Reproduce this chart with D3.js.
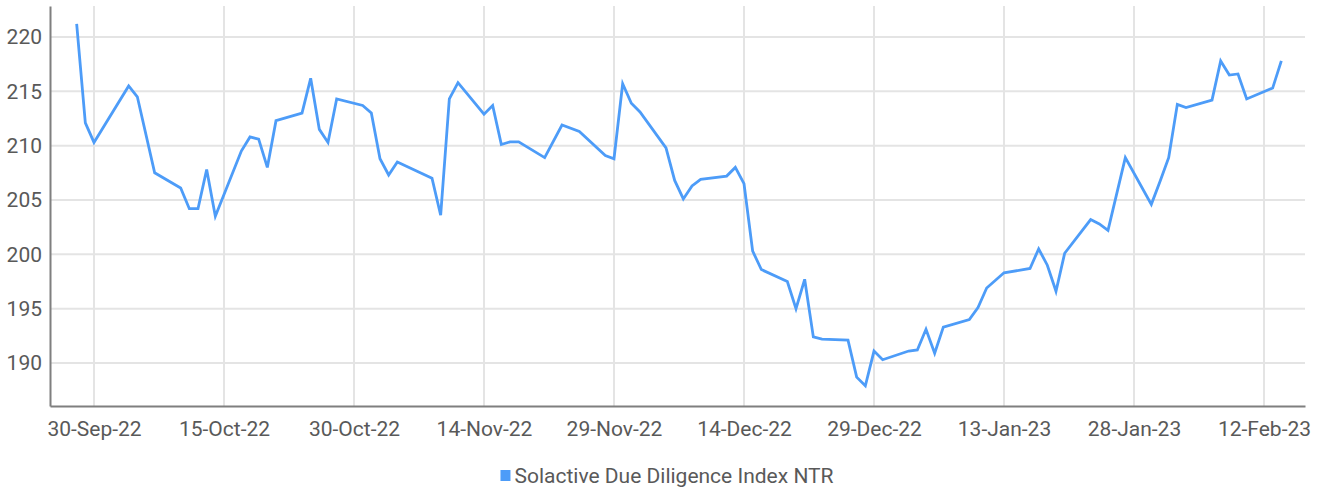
<!DOCTYPE html>
<html lang="en">
<head>
    <title>Solactive Due Diligence Index NTR</title>
    <script src="https://d3js.org/d3.v7.min.js"></script>
    <style>
        body { margin: 0; background: #fff; }
        svg text { font-family: Roboto, "DejaVu Sans", sans-serif; fill: #595959; }
    </style>
</head>
<body>
    <svg id="chart"></svg>

    <script>
        var width = 1319;
        var height = 491;

        var dates = ["2022-09-28","2022-09-29","2022-09-30",
            "2022-10-04","2022-10-05","2022-10-07","2022-10-10","2022-10-11","2022-10-12","2022-10-13","2022-10-14",
            "2022-10-17","2022-10-18","2022-10-19","2022-10-20","2022-10-21","2022-10-24","2022-10-25","2022-10-26",
            "2022-10-27","2022-10-28","2022-10-31",
            "2022-11-01","2022-11-02","2022-11-03","2022-11-04","2022-11-08","2022-11-09","2022-11-10","2022-11-11",
            "2022-11-14","2022-11-15","2022-11-16","2022-11-17","2022-11-18","2022-11-21","2022-11-23","2022-11-25",
            "2022-11-28","2022-11-29","2022-11-30",
            "2022-12-01","2022-12-02","2022-12-05","2022-12-06","2022-12-07","2022-12-08","2022-12-09","2022-12-12",
            "2022-12-13","2022-12-14","2022-12-15","2022-12-16","2022-12-19","2022-12-20","2022-12-21","2022-12-22",
            "2022-12-23","2022-12-26","2022-12-27","2022-12-28","2022-12-29","2022-12-30",
            "2023-01-02","2023-01-03","2023-01-04","2023-01-05","2023-01-06","2023-01-09","2023-01-10","2023-01-11",
            "2023-01-13","2023-01-16","2023-01-17","2023-01-18","2023-01-19","2023-01-20","2023-01-23","2023-01-24",
            "2023-01-25","2023-01-27","2023-01-30","2023-01-31",
            "2023-02-01","2023-02-02","2023-02-03","2023-02-06","2023-02-07","2023-02-08","2023-02-09","2023-02-10",
            "2023-02-13","2023-02-14"];

        var values = [221.2, 212.1, 210.3,
            215.5, 214.5, 207.5, 206.1, 204.2, 204.2, 207.8, 203.5,
            209.5, 210.8, 210.6, 208.0, 212.3, 213.0, 216.2, 211.5,
            210.3, 214.3, 213.7,
            213.0, 208.8, 207.3, 208.5, 207.0, 203.6, 214.3, 215.8,
            212.9, 213.7, 210.1, 210.35, 210.35, 208.9, 211.9, 211.3,
            209.1, 208.8, 215.7,
            213.9, 213.1, 209.8, 206.8, 205.1, 206.3, 206.9, 207.2,
            208.0, 206.5, 200.3, 198.6, 197.5, 195.0, 197.7, 192.4,
            192.2, 192.1, 188.7, 187.9, 191.1, 190.3,
            191.1, 191.2, 193.1, 190.9, 193.3, 194.0, 195.1, 196.9,
            198.3, 198.7, 200.5, 199.0, 196.6, 200.1, 203.2, 202.8,
            202.2, 208.9, 204.6, 206.7,
            208.9, 213.8, 213.5, 214.2, 217.8, 216.5, 216.6, 214.3,
            215.3, 217.8];

        var xTicks = ["2022-09-30","2022-10-15","2022-10-30","2022-11-14","2022-11-29","2022-12-14",
            "2022-12-29","2023-01-13","2023-01-28","2023-02-12"];
        var yTicks = [190, 195, 200, 205, 210, 215, 220];
        var seriesName = "Solactive Due Diligence Index NTR";

        var plot = { left: 50, right: 1305, top: 6, bottom: 406 };
        var parse = d3.utcParse("%Y-%m-%d");
        var fmt = d3.utcFormat("%-d-%b-%y");

        var data = dates.map(function (d, i) { return { date: parse(d), value: values[i] }; });

        // calibrate on first / last tick, then stretch to plot edges
        var base = d3.scaleUtc()
            .domain([parse(xTicks[0]), parse(xTicks[xTicks.length - 1])])
            .range([94, 1264]);
        var xscale = d3.scaleUtc()
            .domain([base.invert(plot.left), base.invert(plot.right)])
            .range([plot.left, plot.right]);

        var ybase = d3.scaleLinear().domain([190, 220]).range([363, 37]);
        var yscale = d3.scaleLinear()
            .domain([ybase.invert(plot.bottom), ybase.invert(plot.top)])
            .range([plot.bottom, plot.top]);

        var svg = d3.select("#chart")
            .attr("width", width)
            .attr("height", height);

        // grid
        svg.append("g")
            .selectAll("line")
            .data(yTicks)
            .enter()
            .append("line")
            .attr("x1", plot.left)
            .attr("x2", plot.right)
            .attr("y1", function (d) { return yscale(d); })
            .attr("y2", function (d) { return yscale(d); })
            .attr("stroke", "#e4e4e4")
            .attr("stroke-width", 2);

        svg.append("g")
            .selectAll("line")
            .data(xTicks)
            .enter()
            .append("line")
            .attr("x1", function (d) { return xscale(parse(d)); })
            .attr("x2", function (d) { return xscale(parse(d)); })
            .attr("y1", plot.top)
            .attr("y2", plot.bottom)
            .attr("stroke", "#e4e4e4")
            .attr("stroke-width", 2);

        // axes
        var xaxis = d3.axisBottom(xscale)
            .tickValues(xTicks.map(parse))
            .tickFormat(fmt)
            .tickSize(0)
            .tickPadding(15);
        var yaxis = d3.axisLeft(yscale)
            .tickValues(yTicks)
            .tickSize(0)
            .tickPadding(8);

        var gx = svg.append("g")
            .attr("transform", "translate(0," + plot.bottom + ")")
            .call(xaxis);
        var gy = svg.append("g")
            .attr("transform", "translate(" + plot.left + ",0)")
            .call(yaxis);

        [gx, gy].forEach(function (g) {
            g.select(".domain").attr("stroke", "#7f7f7f").attr("stroke-width", 2);
            g.selectAll("text").attr("font-size", 21).attr("fill", "#595959");
        });

        // line
        var line = d3.line()
            .x(function (d) { return xscale(d.date); })
            .y(function (d) { return yscale(d.value); });

        svg.append("path")
            .datum(data)
            .attr("d", line)
            .attr("fill", "none")
            .attr("stroke", "#4d9cf8")
            .attr("stroke-width", 2.8)
            .attr("stroke-linejoin", "miter");

        // legend
        var legend = svg.append("g")
            .attr("transform", "translate(" + 668 + ",476)");
        var legendText = legend.append("text")
            .attr("x", 6)
            .attr("dy", "0.35em")
            .attr("text-anchor", "middle")
            .attr("font-size", 21)
            .text(seriesName);
        var tw = legendText.node().getComputedTextLength();
        legend.append("rect")
            .attr("x", 6 - tw / 2 - 14)
            .attr("y", -6)
            .attr("width", 10)
            .attr("height", 11)
            .attr("fill", "#4d9cf8");
    </script>
</body>
</html>
